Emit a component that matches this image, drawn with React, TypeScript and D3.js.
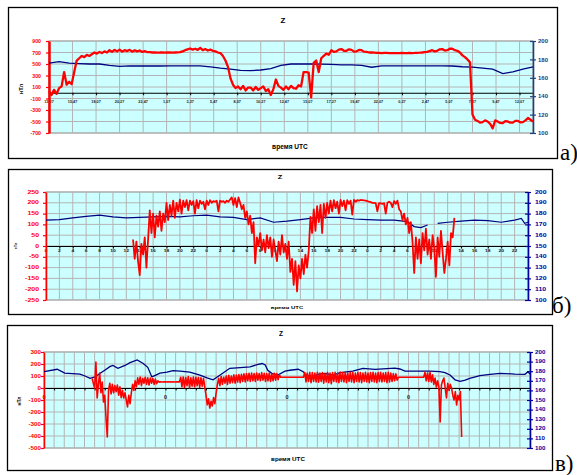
import React, { useEffect, useRef } from 'react';
import * as d3 from 'd3';

// ---------- а) : start 13:27, labels every 2h20m
const aTimeLabels = ['13,27', '15,47', '18,07', '20,27', '22,47', '1,07', '3,27', '5,47', '8,07', '10,27', '12,47',
  '15,07', '17,27', '19,47', '22,07', '0,27', '2,47', '5,07', '7,27', '9,47', '12,07'];
const aLeftTicks = [900, 700, 500, 300, 100, -100, -300, -500, -700];
const aRightTicks = [200, 180, 160, 140, 120, 100];
// Z, nT, one value per quarter hour from 13:27
const aRedZ = [
  30, -40, 50, -20, 80, 110, 360, 140,
  190, 150, 360, 560, 600, 640, 620, 660,
  640, 670, 700, 680, 710, 690, 720, 700,
  740, 710, 745, 720, 750, 715, 740, 725,
  745, 715, 740, 720, 735, 710, 725, 705,
  705, 700, 702, 698, 700, 703, 698, 700,
  702, 699, 700, 701, 705, 720, 740, 755,
  770, 750, 765, 745, 780, 740, 760, 735,
  750, 730, 720, 700, 690, 640, 560, 450,
  250, 140, 80, 110, 60, 120, 40, 90,
  90, 40, 100, 50, 80, 110, 30, 60,
  -40, 60, 230, 120, 90, 50, 110, 60,
  120, 80, 70, 130, 110, 360, 360, 350,
  -80, 520, 560, 360, 600, 640, 680, 660,
  740, 710, 720, 750, 760, 730, 730, 755,
  745, 715, 720, 745, 740, 715, 710, 700,
  700, 698, 695, 693, 690, 692, 692, 690,
  688, 690, 690, 689, 692, 690, 690, 691,
  690, 692, 695, 697, 700, 705, 710, 725,
  740, 720, 730, 755, 760, 735, 740, 765,
  765, 740, 730, 700, 650, 620, 580, 530,
  -380, -470, -490, -520, -510, -480, -500, -540,
  -620, -480, -500, -525, -530, -495, -500, -520,
  -520, -490, -490, -515, -510, -480, -440, -470,
  -500,
];
// blue trace (right scale), one value per hour
const aBlue = [
  176, 177.5, 176, 175.5, 175, 175, 173.5, 172.5, 173, 172.8,
  172.8, 172.8, 173, 173, 173, 173, 171.8, 170.5, 169.5, 168,
  167.7, 168.5, 170, 173.5, 175, 175, 175, 174.8, 174.5, 174,
  174, 173.5, 171.5, 173, 173, 173, 173, 173, 173, 173,
  172.8, 172, 171.5, 170.5, 169.5, 164.5, 166.5, 169.5, 172,
];

// ---------- б) : three days, labels every 2 h
const bHourLabels = ['0', '2', '4', '6', '8', '10', '12', '14', '16', '18', '20', '22'];
const bLeftTicks = [250, 200, 150, 100, 50, 0, -50, -100, -150, -200, -250];
const bRightTicks = [200, 190, 180, 170, 160, 150, 140, 130, 120, 110, 100];
const bRedStart = 13;
// Z, nT, one value per quarter hour from hour 13
const bRedZ = [
  30, -60, 20, -70, -135, 10, -40, 40,
  -100, 30, 165, 60, 150, 40, 140, 90,
  160, 70, 150, 110, 200, 120, 190, 140,
  210, 130, 200, 160, 215, 150, 210, 180,
  212, 165, 210, 190, 208, 150, 212, 175,
  210, 195, 205, 170, 210, 190, 212, 200,
  208, 205, 210, 160, 210, 205, 208, 200,
  210, 205, 215, 225, 190, 222, 180, 225,
  200, 170, 190, 130, 160, 100, 140, 60,
  110, -80, 40, 0, 60, -20, 30, -30,
  50, -10, 40, -50, 30, -20, -70, 20,
  -40, 50, -30, 10, -60, 20, -120, -60,
  -180, -70, -210, -90, -150, -60, -130, -40,
  -100, -20, 135, 60, 170, 70, 185, 110,
  190, 60, 195, 130, 200, 150, 210, 160,
  212, 175, 205, 150, 213, 185, 210, 165,
  212, 195, 210, 145, 213, 205, 212, 210,
  213, 212, 211, 210, 208, 205, 203, 200,
  200, 198, 160, 198, 197, 195, 198, 150,
  200, 205, 200, 180, 208, 195, 210, 170,
  160, 120, 150, 100, 130, 60, 110, 20,
  -125, 40, -60, 30, -80, 60, -20, 80,
  -40, 30, -60, 50, -10, -143, 40, -50,
  70, -30, -125, -60, 20, -90, 60, 40,
  130,
];
// blue trace [hour, value]
const bBlue: [number, number | null][] = [
  [0, 174], [2, 174.5], [4, 176], [6, 177.5], [8, 178.5], [10, 177], [12, 176], [14, 176.5],
  [16, 177], [18, 177.5], [20, 177], [22, 178], [24, 178.5], [26, 177], [28, 176.5], [30, 174.5],
  [32, 176], [34, 172], [36, 173], [38, 174.5], [40, 176], [42, 176.5], [44, 176.5], [46, 175],
  [48, 174.5], [50, 174], [52, 174], [54, 172.5], [55, 168], [56, 167], [57, 169.5], [57.5, null],
  [58.5, 171], [60, 172], [62, 173], [64, 174], [66, 173.5], [68, 172], [70, 174], [71, 175.5],
  [71.5, 171], [72, 172],
];

// ---------- в) : four days
const cDayLabels = ['0', '0', '0', '0'];
const cLeftTicks = [300, 200, 100, 0, -100, -200, -300, -400, -500];
const cRightTicks = [200, 190, 180, 170, 160, 150, 140, 130, 120, 110, 100];
const cRedStart = 9.5;
// Z, nT, one value per quarter hour from hour 9.5
const cRedZ = [
  80, 40, 0, 217, -83, 30, 125, -40, 50, -117, -60, -250,
  -408, -20, 40, -50, 30, -40, 20, -30, 25, -60, 10, -80,
  -20, -83, -40, -100, -158, -60, -130, -40, 30, -20, 60, 10,
  85, 30, 92, 20, 80, 40, 90, 30, 85, 25, 83, 40,
  80, 30, 75, 35, 60, 48, 52, 50, 50, 51, 52, 50,
  51, 50, 52, 50, 51, 50, 50, 51, 52, 50, 90, 10,
  92, 5, 88, 20, 95, 0, 85, 15, 92, 10, 90, 20,
  88, 5, 85, 15, 80, 10, -60, -140, -90, -167, -110, -150,
  -80, -130, -40, 30, 80, 20, 95, 30, 90, 40, 100, 30,
  105, 40, 100, 45, 110, 40, 108, 50, 112, 45, 115, 55,
  118, 50, 120, 60, 122, 55, 125, 60, 120, 55, 125, 65,
  120, 60, 128, 65, 122, 55, 120, 60, 125, 55, 118, 60,
  122, 65, 120, 70, 110, 89, 89, 89, 89, 89, 89, 89,
  89, 89, 89, 89, 89, 89, 89, 89, 89, 89, 89, 89,
  130, 50, 125, 55, 130, 45, 128, 55, 125, 50, 130, 48,
  125, 55, 128, 40, 120, 50, 130, 45, 125, 35, 128, 55,
  130, 50, 125, 45, 133, 55, 128, 50, 130, 45, 125, 55,
  130, 50, 128, 45, 125, 55, 130, 50, 128, 45, 125, 55,
  130, 50, 125, 45, 128, 55, 130, 50, 125, 45, 128, 55,
  130, 50, 125, 55, 128, 45, 130, 50, 125, 55, 120, 60,
  118, 65, 89, 89, 89, 89, 89, 89, 89, 89, 89, 89,
  89, 89, 89, 89, 89, 89, 89, 89, 89, 89, 89, 130,
  60, 125, 55, 130, 50, 110, 30, 83, 8, 60, 10, -283,
  25, 60, 83, 0, -83, 40, -20, 30, 0, -60, -100, -30,
  -142, -60, -100, -30, -408,
];
const cBlue: [number, number][] = [
  [0, 179.5], [2.6, 182], [4.1, 178], [7.1, 177], [8.1, 175], [9.1, 172.6], [10.1, 174], [11.1, 177.8],
  [12, 181], [13, 184.7], [13.6, 186], [14.6, 183], [16, 186], [17, 189], [18.4, 191.7], [19.6, 188],
  [20.5, 184], [21.3, 174], [22.1, 176], [22.9, 178], [24.3, 179], [25.5, 180.5], [26.9, 180], [28.8, 179],
  [30.8, 176], [32.2, 173], [33.4, 171], [34.8, 176], [36.7, 183], [38.1, 183.5], [40.7, 184.5], [42.1, 186.8],
  [43.1, 188], [43.7, 186.5], [44.2, 181], [45, 177.8], [46.2, 176], [47.6, 180], [48.6, 181], [50.2, 182],
  [51.2, 179.5], [51.6, 176.7], [52.7, 173.6], [54.1, 176.7], [55.5, 177.6], [57.1, 176], [58.5, 178.6], [61, 180],
  [63, 183], [65.4, 182], [69.3, 183.3], [70.3, 182.3], [71.3, 180], [76.2, 180], [78.2, 179.5], [79.2, 178.6],
  [80.2, 176], [81.2, 171], [82.2, 169.5], [83.2, 170.8], [84.1, 172.6], [86.1, 175.4], [88.1, 176.7], [90.1, 177.8],
  [93, 177], [95, 176.7], [95.6, 179.4], [96, 177],
];

const SANS = 'Liberation Sans, Arial, sans-serif';

function addText(g: any, s: string, x: number, y: number, fs: number, o: any = {}) {
  const kx = o.kx ?? 1;
  const rot = o.rotate ? ` rotate(${o.rotate})` : '';
  g.append('text')
    .attr('transform', `translate(${x},${y})${rot} scale(${kx},1)`)
    .attr('text-anchor', o.anchor ?? 'middle')
    .attr('dy', o.dy ?? '0.35em')
    .attr('font-family', o.family ?? SANS)
    .attr('font-weight', o.weight ?? 'bold')
    .attr('font-size', fs)
    .attr('fill', o.fill ?? '#000')
    .text(s);
}

function drawPanel(root: any, c: any) {
  const g = root.append('g');
  const { l, r, t, b } = c.plot;
  const x = d3.scaleLinear().domain([0, c.hours]).range([l, r]);
  const yL = d3.scaleLinear().domain(c.leftDomain).range([b, t]);
  const yR = d3.scaleLinear().domain([100, 200]).range([b, t]);

  g.append('rect')
    .attr('x', c.box.x + 0.5).attr('y', c.box.y + 0.5)
    .attr('width', c.box.w).attr('height', c.box.h)
    .attr('fill', '#fff').attr('stroke', '#000').attr('stroke-width', 1.3);

  g.append('rect').attr('x', l).attr('y', t).attr('width', r - l).attr('height', b - t)
    .attr('fill', '#ccffff').attr('stroke', '#999').attr('stroke-width', 1);

  // grid
  g.append('g').selectAll('line').data(c.vGrid).join('line')
    .attr('x1', (d: number) => x(d)).attr('x2', (d: number) => x(d))
    .attr('y1', t).attr('y2', b)
    .attr('stroke', '#b4b4b4').attr('stroke-width', 1);
  g.append('g').selectAll('line').data(c.leftTicks).join('line')
    .attr('x1', l).attr('x2', r)
    .attr('y1', (d: number) => yL(d)).attr('y2', (d: number) => yL(d))
    .attr('stroke', '#b4b4b4').attr('stroke-width', 1);

  // zero line with small ticks
  const xa = g.append('g').attr('transform', `translate(0,${yL(0)})`)
    .call(d3.axisBottom(x).tickValues(c.vGrid).tickSizeInner(2.5).tickSizeOuter(0).tickFormat(() => ''));
  xa.select('.domain').attr('stroke', '#000').attr('stroke-width', 1.2);
  xa.selectAll('line').attr('stroke', '#000');

  c.xLabels.forEach((d: any) => addText(g, d.s, x(d.h), c.tickLabelY, c.fonts.tick, { kx: c.fonts.tickKx, fill: '#222' }));

  // left axis
  const la = g.append('g').attr('transform', `translate(${l},0)`)
    .call(d3.axisLeft(yL).tickValues(c.leftTicks).tickSizeInner(3).tickSizeOuter(0).tickFormat(() => ''));
  la.select('.domain').attr('stroke', '#ff0000').attr('stroke-width', c.leftAxisWidth);
  la.selectAll('line').attr('stroke', '#ff0000').attr('stroke-width', 1.2);
  c.leftTicks.forEach((v: number) => addText(g, String(v), c.leftLabelX, yL(v), c.fonts.left,
    { anchor: 'end', kx: c.fonts.leftKx, fill: '#ff0000' }));

  // right axis
  const ra = g.append('g').attr('transform', `translate(${r},0)`)
    .call(d3.axisRight(yR).tickValues(c.rightTicks).tickSizeInner(3).tickSizeOuter(0).tickFormat(() => ''));
  ra.select('.domain').attr('stroke', c.rightColor).attr('stroke-width', 1.6);
  ra.selectAll('line').attr('x1', -3).attr('stroke', c.rightColor).attr('stroke-width', 1.2);
  c.rightTicks.forEach((v: number) => addText(g, String(v), c.rightLabelX, yR(v), c.fonts.right,
    { anchor: 'start', kx: c.fonts.rightKx, fill: c.rightColor }));

  // series
  const blueLine = d3.line<any>().defined((d) => d[1] != null).x((d) => x(d[0])).y((d) => yR(d[1]));
  const redLine = d3.line<any>().x((d) => x(d[0])).y((d) => yL(d[1]));
  g.append('path').datum(c.blue).attr('fill', 'none').attr('stroke', '#000080')
    .attr('stroke-width', c.blueWidth).attr('d', blueLine);
  g.append('path').datum(c.red).attr('fill', 'none').attr('stroke', '#ff0000')
    .attr('stroke-width', c.redWidth).attr('stroke-linejoin', 'round').attr('d', redLine);

  // titles
  addText(g, 'Z', c.title.x, c.title.y, c.fonts.title, { kx: c.fonts.titleKx });
  addText(g, 'время UTC', c.xTitle.x, c.xTitle.y, c.fonts.xTitle, { kx: c.fonts.xTitleKx });
  addText(g, 'нТл', c.yTitle.x, c.yTitle.y, c.fonts.yTitle, { rotate: -90 });
}

const panelA = {
  box: { x: 8, y: 7, w: 549, h: 151 },
  plot: { l: 49, r: 533, t: 41, b: 133 },
  hours: 48,
  leftDomain: [-700, 900],
  leftTicks: aLeftTicks,
  rightTicks: aRightTicks,
  vGrid: aTimeLabels.map((_, i) => (i * 7) / 3),
  xLabels: aTimeLabels.map((s, i) => ({ h: (i * 7) / 3, s })),
  red: aRedZ.map((v, i) => [i * 0.25, v]),
  blue: aBlue.map((v, i) => [i, v]),
  redWidth: 2.3,
  blueWidth: 1.3,
  leftAxisWidth: 2.5,
  rightColor: '#22407a',
  leftLabelX: 41,
  rightLabelX: 538,
  tickLabelY: 101.5,
  fonts: { left: 5.8, leftKx: 0.9, right: 6, rightKx: 1, tick: 3.8, tickKx: 1, title: 8, titleKx: 1, xTitle: 6.6, xTitleKx: 1, yTitle: 5.8 },
  title: { x: 283, y: 20 },
  xTitle: { x: 290, y: 147 },
  yTitle: { x: 21, y: 89 },
};

const panelB = {
  box: { x: 8, y: 169, w: 544, h: 145 },
  plot: { l: 46, r: 528, t: 192, b: 300 },
  hours: 72,
  leftDomain: [-250, 250],
  leftTicks: bLeftTicks,
  rightTicks: bRightTicks,
  vGrid: d3.range(0, 73, 2),
  xLabels: d3.range(0, 36).map((i) => ({ h: i * 2, s: bHourLabels[i % 12] })),
  red: bRedZ.map((v, i) => [bRedStart + i * 0.25, v]),
  blue: bBlue,
  redWidth: 1.8,
  blueWidth: 1.2,
  leftAxisWidth: 1.5,
  rightColor: '#0000a0',
  leftLabelX: 39,
  rightLabelX: 535,
  tickLabelY: 250.5,
  fonts: { left: 4.8, leftKx: 1.45, right: 4.8, rightKx: 1.45, tick: 3.6, tickKx: 1.4, title: 5, titleKx: 1.5, xTitle: 4, xTitleKx: 1.5, yTitle: 3.5 },
  title: { x: 280, y: 177 },
  xTitle: { x: 287, y: 308 },
  yTitle: { x: 16, y: 246 },
};

const panelC = {
  box: { x: 7, y: 325, w: 545, h: 145 },
  plot: { l: 44, r: 530, t: 352, b: 448 },
  hours: 96,
  leftDomain: [-500, 300],
  leftTicks: cLeftTicks,
  rightTicks: cRightTicks,
  vGrid: d3.range(0, 97, 2),
  xLabels: cDayLabels.map((s, i) => ({ h: i * 24, s })),
  red: cRedZ.map((v, i) => [cRedStart + i * 0.25, v]),
  blue: cBlue,
  redWidth: 1.6,
  blueWidth: 1.3,
  leftAxisWidth: 1.5,
  rightColor: '#0000a0',
  leftLabelX: 41,
  rightLabelX: 535,
  tickLabelY: 397,
  fonts: { left: 4.8, leftKx: 1.3, right: 4.8, rightKx: 1.3, tick: 5, tickKx: 1.1, title: 6.5, titleKx: 1, xTitle: 5, xTitleKx: 1.25, yTitle: 5 },
  title: { x: 281, y: 334 },
  xTitle: { x: 288, y: 459 },
  yTitle: { x: 19, y: 401 },
};

const panelLetters = [
  { s: 'а)', x: 560, y: 160 },
  { s: 'б)', x: 552, y: 313 },
  { s: 'в)', x: 555, y: 471 },
];

export default function App() {
  const ref = useRef<SVGSVGElement>(null);

  useEffect(() => {
    const svg = d3.select(ref.current);
    svg.selectAll('*').remove();
    [panelA, panelB, panelC].forEach((p) => drawPanel(svg, p));
    panelLetters.forEach((d) =>
      svg.append('text').attr('x', d.x).attr('y', d.y)
        .attr('font-family', 'Liberation Serif, Times New Roman, serif')
        .attr('font-size', 23).attr('fill', '#000').text(d.s));
  }, []);

  return (
    <svg ref={ref} width={577} height={475}
      style={{ position: 'absolute', left: 0, top: 0, background: '#fff' }} />
  );
}
